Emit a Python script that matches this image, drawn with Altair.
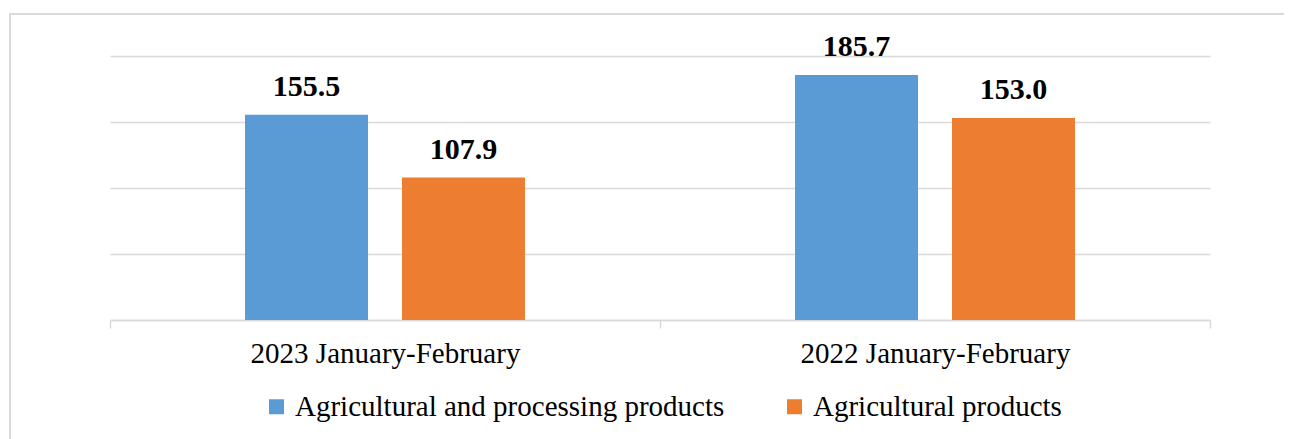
import altair as alt
import pandas as pd

periods = ["2023 January-February", "2022 January-February"]
series = ["Agricultural and processing products", "Agricultural products"]
proc_values = [155.5, 185.7]
agri_values = [107.9, 153.0]
colors = ["#5B9BD5", "#ED7D31"]
grid_values = [0, 50, 100, 150, 200]

rows = []
for i, p in enumerate(periods):
    rows.append({"period": p, "series": series[0], "value": proc_values[i]})
    rows.append({"period": p, "series": series[1], "value": agri_values[i]})
df = pd.DataFrame(rows)
df["label"] = df["value"].map(lambda v: f"{v:.1f}")

FONT = "Liberation Serif"
GRID = "#d9d9d9"

x = alt.X(
    "period:N",
    sort=periods,
    title=None,
    scale=alt.Scale(paddingInner=0, paddingOuter=0),
    axis=alt.Axis(
        labelFont=FONT, labelFontSize=29, labelColor="black", labelAngle=0,
        labelPadding=11, labelLimit=0, domainColor=GRID, domainWidth=1.5,
        tickColor=GRID, tickWidth=1.5, tickSize=8, tickBand="extent",
        grid=False,
    ),
)
xo = alt.XOffset("series:N", sort=series,
                 scale=alt.Scale(paddingInner=0.2166, paddingOuter=0.86))
y = alt.Y(
    "value:Q",
    scale=alt.Scale(domain=[0, 200], nice=False),
    axis=alt.Axis(values=grid_values, labels=False, ticks=False, domain=False,
                  title=None, gridColor=GRID, gridWidth=1.5),
)

bars = alt.Chart(df).mark_bar().encode(
    x=x, xOffset=xo, y=y,
    color=alt.Color(
        "series:N", sort=series,
        scale=alt.Scale(domain=series, range=colors),
        legend=alt.Legend(
            title=None, orient="none", direction="horizontal",
            legendX=152, legendY=336, symbolType="square", symbolSize=225,
            symbolStrokeWidth=0, labelFont=FONT, labelFontSize=29,
            labelColor="black", labelOffset=4, columnPadding=55,
            labelLimit=0,
        ),
    ),
)

texts = alt.Chart(df).mark_text(
    font=FONT, fontSize=30, fontWeight="bold", baseline="alphabetic",
    dy=-19, color="black",
).encode(x=x, xOffset=xo, y=y, text="label:N")

frame = alt.Chart(pd.DataFrame({"a": [0]})).mark_rect(
    fillOpacity=0, stroke=GRID, strokeWidth=2
).encode(
    x=alt.value(-100), x2=alt.value(1250),
    y=alt.value(-42), y2=alt.value(420),
)

chart = alt.layer(frame, bars, texts).properties(
    width=1100, height=264,
    autosize=alt.AutoSizeParams(type="none"),
    padding={"left": 102, "top": 48, "right": 74, "bottom": 119},
).configure_view(stroke=None)

chart.save("out.html", embed_options={"renderer": "svg", "actions": False})
